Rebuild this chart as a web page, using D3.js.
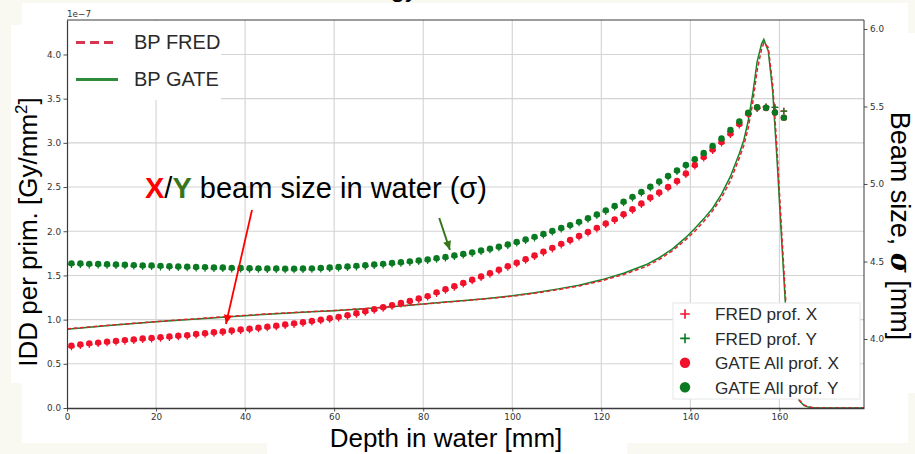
<!DOCTYPE html>
<html>
<head>
<meta charset="utf-8">
<script src="https://cdn.jsdelivr.net/npm/d3@7"></script>
<style>
  html, body { margin: 0; padding: 0; background: #f9f9f1; }
  svg { display: block; font-family: "Liberation Sans", Arial, sans-serif; }
</style>
</head>
<body>
<svg id="chart" width="915" height="454"></svg>
<script>
// ---- Integrated depth dose (left axis, units of 1e-7 Gy/mm^2) ----
const iddDepth = [0, 5, 10, 15, 20, 25, 30, 35, 40, 45, 50, 55, 60, 65, 70, 75, 80, 85, 90, 95,
  100, 105, 110, 115, 120, 125, 130, 133, 136, 139, 141, 143, 145, 147, 149, 150, 151, 152, 153, 154,
  155, 156, 156.5, 157.5, 158.5, 159.5, 160.5, 161.5, 162.5, 163.5, 164.5, 165.5, 166.5, 168, 179];
const iddGate = [0.89, 0.913, 0.935, 0.955, 0.975, 0.993, 1.01, 1.028, 1.045, 1.06, 1.075, 1.088, 1.10, 1.117, 1.135, 1.155, 1.178, 1.198, 1.22, 1.243,
  1.27, 1.305, 1.345, 1.39, 1.45, 1.525, 1.62, 1.70, 1.80, 1.93, 2.03, 2.14, 2.26, 2.42, 2.62, 2.75, 2.88, 3.03, 3.25, 3.55,
  3.92, 4.12, 4.17, 4.04, 3.58, 2.78, 1.9, 1.05, 0.5, 0.2, 0.08, 0.03, 0.01, 0, 0];
const iddFred = [0.895, 0.917, 0.938, 0.958, 0.978, 0.996, 1.013, 1.031, 1.048, 1.064, 1.078, 1.091, 1.103, 1.119, 1.136, 1.155, 1.176, 1.196, 1.217, 1.24,
  1.265, 1.298, 1.337, 1.381, 1.438, 1.51, 1.60, 1.68, 1.78, 1.905, 2.0, 2.11, 2.23, 2.38, 2.57, 2.70, 2.83, 2.97, 3.17, 3.45,
  3.82, 4.06, 4.13, 4.08, 3.65, 2.9, 2.0, 1.15, 0.55, 0.22, 0.09, 0.035, 0.012, 0, 0];

// ---- Beam size sigma (right axis, mm) ----
const profDepth = [1, 3, 5, 7, 9, 11, 13, 15, 17, 19, 21, 23, 25, 27, 29, 31, 33, 35, 37, 39,
  41, 43, 45, 47, 49, 51, 53, 55, 57, 59, 61, 63, 65, 67, 69, 71, 73, 75, 77, 79,
  81, 83, 85, 87, 89, 91, 93, 95, 97, 99, 101, 103, 105, 107, 109, 111, 113, 115, 117, 119,
  121, 123, 125, 127, 129, 131, 133, 135, 137, 139, 141, 143, 145, 147, 149, 151, 153, 155, 157, 159, 161];
const fredX = [3.949, 3.957, 3.964, 3.969, 3.975, 3.980, 3.985, 3.989, 3.995, 3.999,
  4.004, 4.008, 4.013, 4.017, 4.024, 4.030, 4.036, 4.041, 4.047, 4.053,
  4.059, 4.065, 4.071, 4.078, 4.086, 4.093, 4.100, 4.108, 4.117, 4.126,
  4.135, 4.146, 4.158, 4.171, 4.184, 4.197, 4.210, 4.224, 4.238, 4.253,
  4.269, 4.293, 4.313, 4.333, 4.353, 4.374, 4.395, 4.417, 4.439, 4.462,
  4.484, 4.507, 4.531, 4.556, 4.580, 4.606, 4.631, 4.657, 4.683, 4.709,
  4.737, 4.764, 4.797, 4.829, 4.866, 4.905, 4.937, 4.973, 5.011, 5.060,
  5.115, 5.166, 5.215, 5.263, 5.318, 5.379, 5.447, 5.488, 5.498, 5.494, 5.470];
const fredY = [4.480, 4.479, 4.477, 4.476, 4.474, 4.473, 4.471, 4.469, 4.467, 4.466,
  4.464, 4.462, 4.460, 4.459, 4.457, 4.456, 4.454, 4.453, 4.451, 4.450,
  4.449, 4.448, 4.447, 4.447, 4.446, 4.446, 4.447, 4.448, 4.450, 4.453,
  4.457, 4.460, 4.464, 4.468, 4.473, 4.477, 4.482, 4.487, 4.493, 4.499,
  4.505, 4.513, 4.521, 4.531, 4.540, 4.551, 4.563, 4.575, 4.588, 4.602,
  4.618, 4.634, 4.651, 4.669, 4.689, 4.708, 4.727, 4.748, 4.771, 4.795,
  4.822, 4.850, 4.878, 4.909, 4.940, 4.974, 5.008, 5.044, 5.079, 5.115,
  5.152, 5.192, 5.238, 5.286, 5.340, 5.395, 5.452, 5.488, 5.498, 5.494, 5.470];
const gateX = [3.957, 3.965, 3.972, 3.977, 3.983, 3.988, 3.993, 3.997, 4.003, 4.007,
  4.012, 4.016, 4.021, 4.025, 4.032, 4.038, 4.044, 4.049, 4.055, 4.061,
  4.067, 4.073, 4.079, 4.086, 4.094, 4.101, 4.108, 4.116, 4.125, 4.134,
  4.143, 4.154, 4.166, 4.179, 4.192, 4.205, 4.218, 4.232, 4.246, 4.261,
  4.277, 4.301, 4.321, 4.341, 4.361, 4.382, 4.403, 4.425, 4.447, 4.470,
  4.492, 4.515, 4.539, 4.564, 4.588, 4.614, 4.639, 4.665, 4.691, 4.717,
  4.745, 4.772, 4.805, 4.837, 4.874, 4.913, 4.945, 4.981, 5.019, 5.068,
  5.123, 5.174, 5.223, 5.271, 5.326, 5.387, 5.455, 5.494, 5.490, 5.461, 5.428];
const gateY = [4.488, 4.487, 4.485, 4.484, 4.482, 4.481, 4.479, 4.477, 4.475, 4.474,
  4.472, 4.470, 4.468, 4.467, 4.465, 4.464, 4.462, 4.461, 4.459, 4.458,
  4.457, 4.456, 4.455, 4.455, 4.454, 4.454, 4.455, 4.456, 4.458, 4.461,
  4.465, 4.468, 4.472, 4.476, 4.481, 4.485, 4.490, 4.495, 4.501, 4.507,
  4.513, 4.521, 4.529, 4.539, 4.548, 4.559, 4.571, 4.583, 4.596, 4.610,
  4.626, 4.642, 4.659, 4.677, 4.697, 4.716, 4.735, 4.756, 4.779, 4.803,
  4.830, 4.858, 4.886, 4.917, 4.948, 4.982, 5.016, 5.052, 5.087, 5.123,
  5.160, 5.200, 5.246, 5.294, 5.348, 5.403, 5.460, 5.495, 5.492, 5.461, 5.428];

// ---- Tick labels ----
const depthTicks = [0, 20, 40, 60, 80, 100, 120, 140, 160];
const iddTicks = [0.0, 0.5, 1.0, 1.5, 2.0, 2.5, 3.0, 3.5, 4.0];
const sigmaTicks = [4.0, 4.5, 5.0, 5.5, 6.0];

const C = {
  redLine: "#e8202e", greenLine: "#11872a",
  redDot: "#f2112b", greenDot: "#0a7a22",
  grid: "#d3d3d3", axis: "#3a3a3a", tickText: "#333",
  darkGreen: "#38761d"
};

const svg = d3.select("#chart");
const plot = { left: 67, right: 864, top: 20, bottom: 408 };

const x = d3.scaleLinear().domain([0, 179]).range([plot.left, plot.right]);
const yL = d3.scaleLinear().domain([0, 4.39]).range([plot.bottom, plot.top]);
const yR = d3.scaleLinear().domain([3.555, 6.058]).range([plot.bottom, plot.top]);

// Figure and text-box backgrounds
svg.append("rect").attr("x", 22).attr("y", 3).attr("width", 886).attr("height", 440).attr("fill", "#fff");
svg.append("rect").attr("x", 11).attr("y", 25).attr("width", 12).attr("height", 358).attr("fill", "#fff");
svg.append("rect").attr("x", 880).attr("y", 33).attr("width", 35).attr("height", 360).attr("fill", "#fff");
svg.append("rect").attr("x", 267).attr("y", 420).attr("width", 360).attr("height", 34).attr("fill", "#fff");

// Title peeking in from the top edge
svg.append("text").attr("x", 418).attr("y", -3).attr("text-anchor", "end")
  .attr("font-size", 26).attr("fill", "#000").text("Energy");

// Grid
const grid = svg.append("g");
grid.selectAll("line.v").data(depthTicks.filter(d => d > 0)).join("line")
  .attr("x1", d => x(d)).attr("x2", d => x(d)).attr("y1", plot.top).attr("y2", plot.bottom)
  .attr("stroke", C.grid).attr("stroke-width", 1.1);
grid.selectAll("line.h").data(iddTicks.filter(d => d > 0)).join("line")
  .attr("y1", d => yL(d)).attr("y2", d => yL(d)).attr("x1", plot.left).attr("x2", plot.right)
  .attr("stroke", C.grid).attr("stroke-width", 1.1);

// IDD curves
const lineL = (ys) => d3.line().x((d, i) => x(iddDepth[i])).y(d => yL(d))(ys);
svg.append("path").attr("d", lineL(iddGate)).attr("fill", "none")
  .attr("stroke", C.greenLine).attr("stroke-width", 1.5);
svg.append("path").attr("d", lineL(iddFred)).attr("fill", "none")
  .attr("stroke", C.redLine).attr("stroke-width", 1.5).attr("stroke-dasharray", "4,2.5");

// Top-left legend (dose curves)
const legL = svg.append("g");
legL.append("rect").attr("x", 68).attr("y", 21).attr("width", 153).attr("height", 79).attr("fill", "#fff");
legL.append("line").attr("x1", 76).attr("x2", 118).attr("y1", 42.5).attr("y2", 42.5)
  .attr("stroke", "#d8364f").attr("stroke-width", 3).attr("stroke-dasharray", "9,5");
legL.append("line").attr("x1", 76).attr("x2", 118).attr("y1", 79.5).attr("y2", 79.5)
  .attr("stroke", "#2e8b3a").attr("stroke-width", 3);
legL.append("text").attr("x", 134).attr("y", 49).attr("font-size", 20).attr("fill", "#2a2a2a").text("BP FRED");
legL.append("text").attr("x", 134).attr("y", 86).attr("font-size", 20).attr("fill", "#2a2a2a").text("BP GATE");

// Beam-size profiles
const plusPath = (s) => `M${-s},0H${s}M0,${-s}V${s}`;
const pts = svg.append("g");
function pluses(vals, color) {
  pts.append("g").selectAll("path").data(vals).join("path")
    .attr("transform", (d, i) => `translate(${x(profDepth[i])},${yR(d)})`)
    .attr("d", plusPath(3.3)).attr("stroke", color).attr("stroke-width", 1.2).attr("fill", "none");
}
function dots(vals, color) {
  pts.append("g").selectAll("circle").data(vals).join("circle")
    .attr("cx", (d, i) => x(profDepth[i])).attr("cy", d => yR(d)).attr("r", 3.2).attr("fill", color);
}
pluses(fredX, C.redDot);
pluses(fredY, C.greenDot);
dots(gateX, C.redDot);
dots(gateY, C.greenDot);

// Frame
const frame = svg.append("g").attr("stroke", C.axis).attr("fill", "none");
frame.append("line").attr("x1", plot.left).attr("x2", plot.right).attr("y1", plot.top).attr("y2", plot.top).attr("stroke-width", 1);
frame.append("line").attr("x1", plot.right).attr("x2", plot.right).attr("y1", plot.top).attr("y2", plot.bottom).attr("stroke-width", 1);

// Axes
function styleAxis(g) {
  g.select(".domain").attr("stroke", C.axis).attr("stroke-width", 1.2);
  g.selectAll(".tick line").attr("stroke", C.axis).attr("stroke-width", 0.9);
  g.selectAll(".tick text").attr("fill", C.tickText)
    .attr("font-family", "'DejaVu Sans', sans-serif").attr("font-size", 8.8);
}
svg.append("g").attr("transform", `translate(0,${plot.bottom})`)
  .call(d3.axisBottom(x).tickValues(depthTicks).tickFormat(d3.format("d")).tickSize(3.5).tickPadding(2.5).tickSizeOuter(0))
  .call(styleAxis).call(g => g.select(".domain").attr("stroke-width", 1.6));
svg.append("g").attr("transform", `translate(${plot.left},0)`)
  .call(d3.axisLeft(yL).tickValues(iddTicks).tickFormat(d3.format(".1f")).tickSize(3.5).tickPadding(2.5).tickSizeOuter(0))
  .call(styleAxis);
svg.append("g").attr("transform", `translate(${plot.right},0)`)
  .call(d3.axisRight(yR).tickValues(sigmaTicks).tickFormat(d3.format(".1f")).tickSize(3.5).tickPadding(2.5).tickSizeOuter(0))
  .call(styleAxis).call(g => g.select(".domain").remove());

svg.append("text").attr("x", plot.left).attr("y", 17).attr("font-family", "'DejaVu Sans', sans-serif")
  .attr("font-size", 8.8).attr("fill", C.tickText).text("1e\u22127");

// Bottom-right legend (profiles)
const legR = svg.append("g");
legR.append("rect").attr("x", 673).attr("y", 303).attr("width", 187).attr("height", 96)
  .attr("fill", "#fff").attr("stroke", "#e6e6e6").attr("stroke-width", 1);
const legItems = [
  { label: "FRED prof. X", kind: "plus", color: C.redDot },
  { label: "FRED prof. Y", kind: "plus", color: C.greenDot },
  { label: "GATE All prof. X", kind: "dot", color: C.redDot },
  { label: "GATE All prof. Y", kind: "dot", color: C.greenDot }
];
legItems.forEach((it, i) => {
  const cy = 314 + i * 24.4;
  if (it.kind === "plus") {
    legR.append("path").attr("transform", `translate(685,${cy})`).attr("d", plusPath(4.8))
      .attr("stroke", it.color).attr("stroke-width", 1.6).attr("fill", "none");
  } else {
    legR.append("circle").attr("cx", 685).attr("cy", cy).attr("r", 5.2).attr("fill", it.color);
  }
  legR.append("text").attr("x", 715).attr("y", cy + 6.3).attr("font-size", 17.2)
    .attr("fill", "#2a2a2a").text(it.label);
});

// Axis titles
svg.append("text").attr("transform", "translate(37,232) rotate(-90)").attr("text-anchor", "middle")
  .attr("font-size", 26).attr("fill", "#000")
  .call(t => {
    t.append("tspan").text("IDD per prim. [Gy/mm");
    t.append("tspan").attr("font-size", 17).attr("dy", -10).text("2");
    t.append("tspan").attr("dy", 10).text("]");
  });
svg.append("text").attr("transform", "translate(890.5,226) rotate(90)").attr("text-anchor", "middle")
  .attr("font-size", 27).attr("fill", "#000")
  .call(t => {
    t.append("tspan").text("Beam size, ");
    t.append("tspan").attr("font-weight", "bold").attr("font-style", "italic")
      .attr("font-family", "'DejaVu Serif', serif").text("\u03c3");
    t.append("tspan").text(" [mm]");
  });
svg.append("text").attr("x", 446).attr("y", 447).attr("text-anchor", "middle")
  .attr("font-size", 26).attr("fill", "#000").text("Depth in water [mm]");

// Annotation
svg.append("text").attr("x", 145).attr("y", 198).attr("font-size", 29).attr("fill", "#000")
  .call(t => {
    t.append("tspan").attr("font-weight", "bold").attr("fill", "#ff0000").text("X");
    t.append("tspan").text("/");
    t.append("tspan").attr("font-weight", "bold").attr("fill", C.darkGreen).text("Y");
    t.append("tspan").text(" beam size in water (\u03c3)");
  });

const defs = svg.append("defs");
[["arrRed", "#ff0000"], ["arrGreen", C.darkGreen]].forEach(([id, col]) => {
  defs.append("marker").attr("id", id).attr("viewBox", "0 -5 10 10").attr("refX", 10).attr("refY", 0)
    .attr("markerUnits", "userSpaceOnUse").attr("markerWidth", 10).attr("markerHeight", 9).attr("orient", "auto")
    .append("path").attr("d", "M0,-4.5L10,0L0,4.5Z").attr("fill", col);
});
// arrows anchored in data space (depth, sigma)
const arrows = [
  { from: [41.55, 4.832], to: [35.7, 4.097], color: "#ff0000", marker: "arrRed", w: 1.8 },
  { from: [83.6, 4.781], to: [86.0, 4.574], color: C.darkGreen, marker: "arrGreen", w: 2 }
];
arrows.forEach(a => {
  svg.append("line").attr("x1", x(a.from[0])).attr("y1", yR(a.from[1]))
    .attr("x2", x(a.to[0])).attr("y2", yR(a.to[1]))
    .attr("stroke", a.color).attr("stroke-width", a.w).attr("marker-end", `url(#${a.marker})`);
});
</script>
</body>
</html>
